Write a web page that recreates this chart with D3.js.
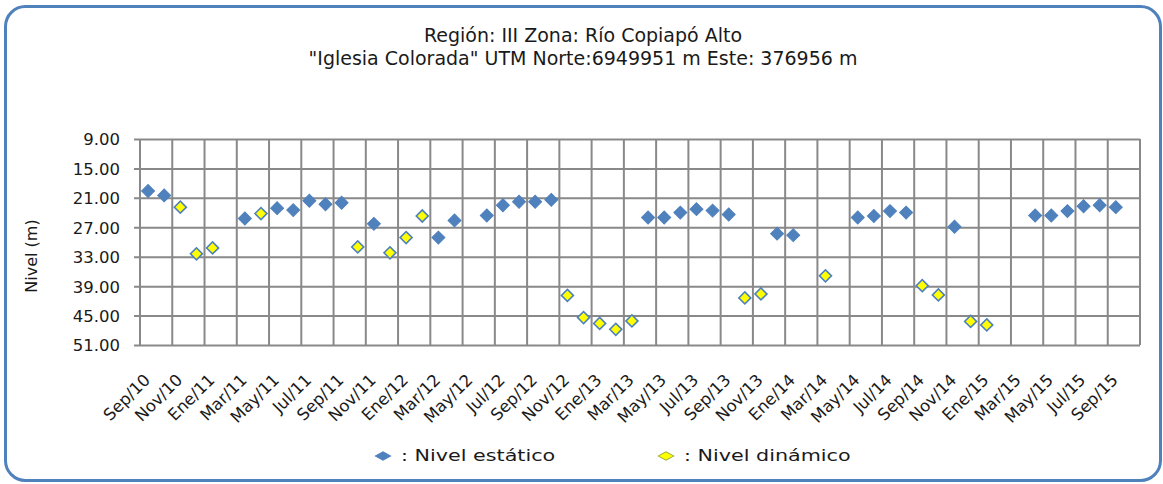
<!DOCTYPE html>
<html>
<head>
<meta charset="utf-8">
<script src="https://cdn.jsdelivr.net/npm/d3@7"></script>
<style>
  html, body { margin: 0; padding: 0; background: #ffffff; }
  svg { display: block; }
  text { font-family: "DejaVu Sans", Verdana, sans-serif; fill: #1a1a1a; }
</style>
</head>
<body>
<svg id="chart" width="1163" height="484"></svg>
<script>
// Monthly categories, Sep/10 .. Oct/15
const categories = [
  "Sep/10","Oct/10","Nov/10","Dic/10",
  "Ene/11","Feb/11","Mar/11","Abr/11","May/11","Jun/11","Jul/11","Ago/11","Sep/11","Oct/11","Nov/11","Dic/11",
  "Ene/12","Feb/12","Mar/12","Abr/12","May/12","Jun/12","Jul/12","Ago/12","Sep/12","Oct/12","Nov/12","Dic/12",
  "Ene/13","Feb/13","Mar/13","Abr/13","May/13","Jun/13","Jul/13","Ago/13","Sep/13","Oct/13","Nov/13","Dic/13",
  "Ene/14","Feb/14","Mar/14","Abr/14","May/14","Jun/14","Jul/14","Ago/14","Sep/14","Oct/14","Nov/14","Dic/14",
  "Ene/15","Feb/15","Mar/15","Abr/15","May/15","Jun/15","Jul/15","Ago/15","Sep/15","Oct/15"
];

// Nivel estático (m), null = sin medición
const nivelEstatico = [
  19.6, 20.5, null, null, null, null, 25.2, null, 23.1, 23.5, 21.6, 22.3, 22.0, null, 26.3, null,
  null, null, 29.1, 25.6, null, 24.6, 22.5, 21.8, 21.8, 21.4, null, null,
  null, null, null, 25.0, 25.0, 24.0, 23.3, 23.6, 24.4, null, null, 28.3,
  28.6, null, null, null, 25.0, 24.7, 23.7, 24.0, null, null, 26.9, null,
  null, null, null, 24.6, 24.6, 23.7, 22.7, 22.5, 22.9, null
];

// Nivel dinámico (m)
const nivelDinamico = [
  null, null, 22.9, 32.4, 31.2, null, null, 24.2, null, null, null, null, null, 31.0, null, 32.2,
  29.1, 24.7, null, null, null, null, null, null, null, null, 40.9, 45.4,
  46.6, 47.8, 46.1, null, null, null, null, null, null, 41.4, 40.6, null,
  null, null, 36.9, null, null, null, null, null, 38.9, 40.8, null, 46.2,
  46.9, null, null, null, null, null, null, null, null, null
];

const yTicks = [9, 15, 21, 27, 33, 39, 45, 51];

const titleLines = [
  "Región: III Zona: Río Copiapó Alto",
  "\"Iglesia Colorada\" UTM Norte:6949951 m Este: 376956 m"
];
const yTitle = "Nivel (m)";
const legendLabels = [": Nivel estático", ": Nivel dinámico"];

const BLUE = "#4f81bd";
const YELLOW = "#ffff00";
const GRID = "#898989";

const svg = d3.select("#chart");

// Rounded outer frame
svg.append("rect")
  .attr("x", 5.5).attr("y", 6.5)
  .attr("width", 1155).attr("height", 474)
  .attr("rx", 20).attr("ry", 20)
  .attr("fill", "#ffffff")
  .attr("stroke", BLUE)
  .attr("stroke-width", 3);

// Title
svg.append("g").selectAll("text")
  .data(titleLines)
  .join("text")
  .attr("x", 583)
  .attr("y", (d, i) => 42 + i * 23)
  .attr("text-anchor", "middle")
  .style("font-size", "19px")
  .text(d => d);

const plot = { left: 140, right: 1140, top: 139, bottom: 345 };

const x = d3.scaleBand()
  .domain(categories)
  .range([plot.left, plot.right])
  .padding(0);

const y = d3.scaleLinear()
  .domain([9, 51])
  .range([plot.top, plot.bottom]);

const cx = c => x(c) + x.bandwidth() / 2;

// Horizontal grid + y axis
const yAxis = d3.axisLeft(y)
  .tickValues(yTicks)
  .tickFormat(d3.format(".2f"))
  .tickSize(-(plot.right - plot.left))
  .tickSizeOuter(0);

const gy = svg.append("g")
  .attr("transform", `translate(${plot.left},0)`)
  .call(yAxis);
gy.select(".domain").remove();
gy.selectAll(".tick line")
  .attr("x1", -6)
  .attr("stroke", GRID)
  .attr("stroke-width", 2);
gy.selectAll(".tick text")
  .attr("x", -20)
  .attr("dy", "0.36em")
  .style("font-size", "16.5px")
  .style("font-family", "'DejaVu Sans', Verdana, sans-serif")
  .attr("fill", "#1a1a1a");

// Vertical grid every two months, plus the plot's right edge
const labelCats = categories.filter((d, i) => i % 2 === 0);
const vLines = labelCats.map(c => x(c)).concat([plot.right]);
svg.append("g").selectAll("line")
  .data(vLines)
  .join("line")
  .attr("x1", d => d).attr("x2", d => d)
  .attr("y1", plot.top).attr("y2", plot.bottom)
  .attr("stroke", GRID)
  .attr("stroke-width", 2);

// X tick labels, rotated
svg.append("g").selectAll("text")
  .data(labelCats)
  .join("text")
  .attr("text-anchor", "end")
  .attr("transform", c => `translate(${cx(c) + 3},${plot.bottom + 36}) rotate(-45)`)
  .style("font-size", "16.5px")
  .text(c => c);

// Y axis title
svg.append("text")
  .attr("transform", `translate(37,${(plot.top + plot.bottom) / 2 + 14}) rotate(-90)`)
  .attr("text-anchor", "middle")
  .style("font-size", "16px")
  .text(yTitle);

// Markers: squares turned 45 degrees
const diamond = size => d3.symbol().type(d3.symbolSquare).size(size)();

const staticPts = categories
  .map((c, i) => ({ c, v: nivelEstatico[i] }))
  .filter(d => d.v !== null);
const dynPts = categories
  .map((c, i) => ({ c, v: nivelDinamico[i] }))
  .filter(d => d.v !== null);

svg.append("g").selectAll("path")
  .data(staticPts)
  .join("path")
  .attr("d", diamond(84))
  .attr("transform", d => `translate(${cx(d.c)},${y(d.v)}) rotate(45)`)
  .attr("fill", BLUE)
  .attr("stroke", BLUE)
  .attr("stroke-width", 1);

svg.append("g").selectAll("path")
  .data(dynPts)
  .join("path")
  .attr("d", diamond(72))
  .attr("transform", d => `translate(${cx(d.c)},${y(d.v)}) rotate(45)`)
  .attr("fill", YELLOW)
  .attr("stroke", BLUE)
  .attr("stroke-width", 1.6);

// Legend (wide, flattened swatches and stretched labels)
const legend = [
  { label: legendLabels[0], fill: BLUE, stroke: BLUE, x: 383 },
  { label: legendLabels[1], fill: YELLOW, stroke: "#8fa63c", x: 666 }
];
const lg = svg.append("g").selectAll("g")
  .data(legend)
  .join("g")
  .attr("transform", d => `translate(${d.x},456)`);
lg.append("path")
  .attr("d", diamond(58))
  .attr("transform", "scale(1.45,0.8) rotate(45)")
  .attr("fill", d => d.fill)
  .attr("stroke", d => d.stroke)
  .attr("stroke-width", 0.8);
lg.append("text")
  .attr("transform", "translate(18,5) scale(1.38,1)")
  .style("font-size", "15px")
  .attr("fill", "#2d2040")
  .text(d => d.label);
</script>
</body>
</html>
